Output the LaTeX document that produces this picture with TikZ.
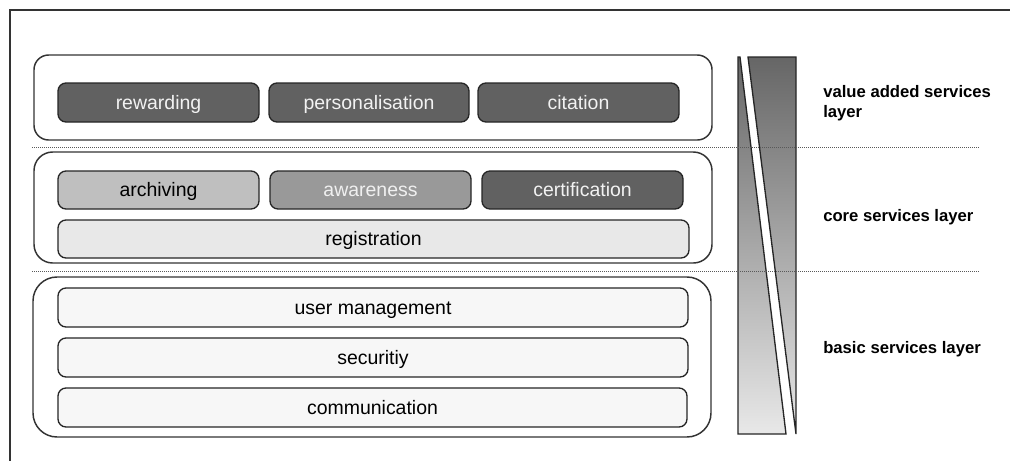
\documentclass[tikz,border=0pt]{standalone}
\usepackage{fontspec}
\setmainfont{Liberation Sans}
\begin{document}
\begin{tikzpicture}[x=0.75pt,y=-0.75pt,
  wh/.style 2 args={minimum width=#1*0.75pt, minimum height=#2*0.75pt},
  frameline/.style={draw=black!80, line width=1.5pt},
  bigbox/.style={draw=black!80, line width=1.1pt, fill=white, inner sep=0pt},
  svc/.style={draw=black!85, line width=1pt, rounded corners=6pt, inner sep=0pt,
    text height=1.25em, text depth=0.22em,
    font=\fontsize{14.6}{17}\selectfont},
  darksvc/.style={svc, fill=black!62, text=black!5},
  midsvc/.style={svc, fill=black!40, text=black!6},
  lightsvc/.style={svc, fill=black!25, text=black},
  palesvc/.style={svc, fill=black!9, text=black},
  basesvc/.style={svc, fill=black!3, text=black},
  layerlabel/.style={anchor=west, align=left, inner sep=0pt,
    font=\fontsize{12.5}{15}\selectfont\bfseries},
  sepline/.style={draw=black!65, line width=0.75pt, dash pattern=on 0.75pt off 0.75pt},
  barpiece/.style={top color=black!60, bottom color=black!9, draw=black!85, line width=1pt, line join=miter}
]
\useasboundingbox (0,0) rectangle (1010,461);
\fill[white] (0,0) rectangle (1010,461);

% outer frame (top and left edges)
\coordinate (frTL) at (10,10);
\coordinate (frTR) at (1010,10);
\coordinate (frBL) at (10,461);
\draw[frameline] (frTR) -- (frTL) -- (frBL);

% layer containers
\node[bigbox, rounded corners=11pt, wh={678}{85}] (valbox) at (373,97.5) {};
\node[bigbox, rounded corners=14pt, wh={678}{111}] (corebox) at (373,207.5) {};
\node[bigbox, rounded corners=18pt, wh={678}{160}] (basebox) at (372,357) {};

% value added services
\node[darksvc, wh={201}{39}] (rewarding) at (158.5,102.5) {rewarding};
\node[darksvc, wh={200}{39}] (personal) at (369,102.5) {personalisation};
\node[darksvc, wh={201}{39}] (citation) at (578.5,102.5) {citation};

% core services
\node[lightsvc, wh={201}{38}] (archiving) at (158.5,190) {archiving};
\node[midsvc, wh={201}{38}] (awareness) at (370.5,190) {awareness};
\node[darksvc, wh={201}{38}] (certification) at (582.5,190) {certification};
\node[palesvc, wh={631}{38}] (registration) at (373.5,239) {registration};

% basic services
\node[basesvc, wh={630}{39}] (usermgmt) at (373,307.5) {user management};
\node[basesvc, wh={630}{39}] (security) at (373,357.5) {securitiy};
\node[basesvc, wh={629}{39}] (communication) at (372.5,407.5) {communication};

% gradient bar split by a slanted white band
\coordinate (barTL) at (738,57);
\coordinate (barTLs) at (740,57);
\coordinate (barBLs) at (786,434);
\coordinate (barBL) at (738,434);
\coordinate (barTRs) at (748,57);
\coordinate (barTR) at (796,57);
\coordinate (barBR) at (796,434);
\path[barpiece] (barTL) -- (barTLs) -- (barBLs) -- (barBL) -- cycle;
\path[barpiece] (barTRs) -- (barTR) -- (barBR) -- cycle;

% layer separators
\coordinate (sepAL) at (32,147);
\coordinate (sepAR) at (980,147);
\coordinate (sepBL) at (32,271);
\coordinate (sepBR) at (980,271);
\draw[sepline] (sepAL) -- (sepAR);
\draw[sepline] (sepBL) -- (sepBR);

% layer labels
\node[layerlabel] (lblvalue) at (823,103) {value added services\\layer};
\node[layerlabel] (lblcore) at (823,217) {core services layer};
\node[layerlabel] (lblbasic) at (823,349) {basic services layer};
\end{tikzpicture}
\end{document}
